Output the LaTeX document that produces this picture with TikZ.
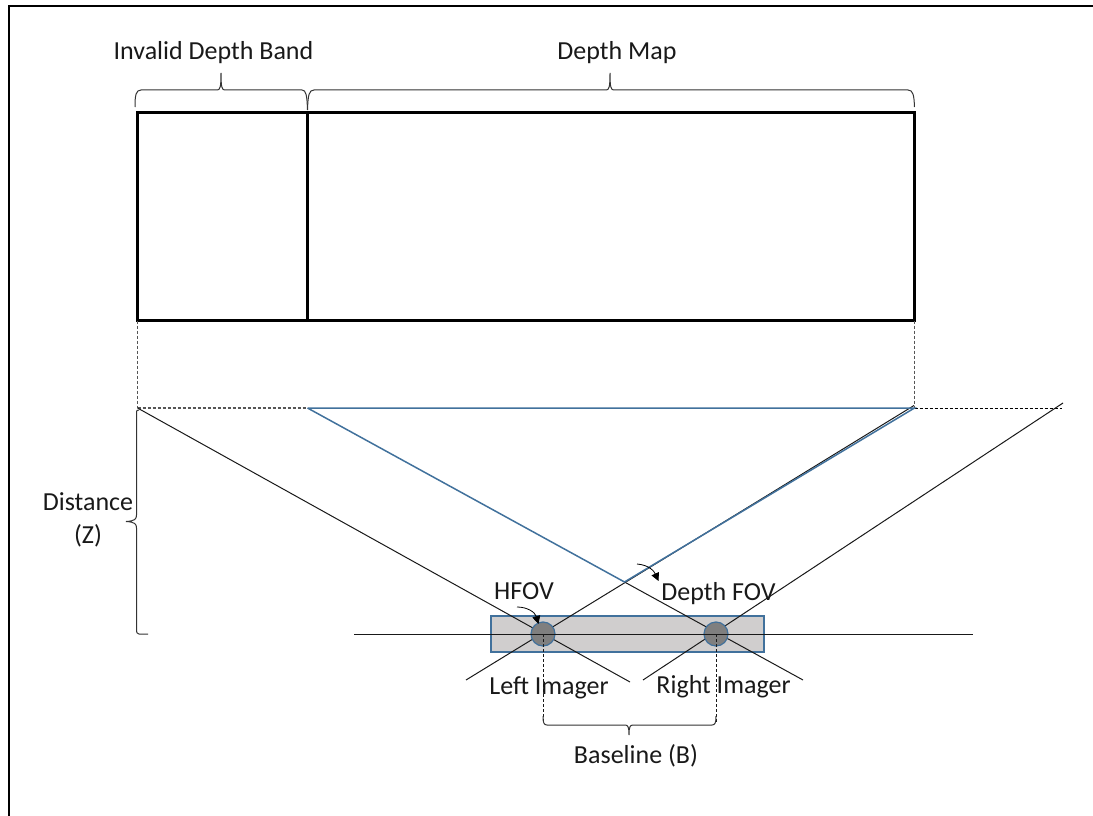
\documentclass[tikz,border=0pt]{standalone}
\usepackage{fontspec}
\setmainfont{Carlito}
\usetikzlibrary{arrows.meta}
\definecolor{bluel}{HTML}{41719C}
\definecolor{dashg}{HTML}{555555}
\definecolor{bodyg}{HTML}{D0CECE}
\definecolor{lensg}{HTML}{7F7F7F}
\tikzset{
  x=1pt,y=-1pt,
  lbl/.style={inner sep=0pt,anchor=base,font=\fontsize{26}{33}\selectfont,text=black!90},
  thick box/.style={draw=black,line width=3.6pt},
  thin line/.style={draw=black!90,line width=1pt},
  blue line/.style={draw=bluel,line width=1.5pt},
  brace line/.style={draw=black!80,line width=1pt},
  dash line/.style={draw=dashg,line width=1.2pt,dash pattern=on 3pt off 2pt},
  small arrow/.style={draw=black,line width=.8pt,-{Triangle[length=8pt,width=8pt]}},
  lens/.style={circle,draw=bluel,fill=lensg,line width=1.2pt,minimum size=24pt,inner sep=0pt},
}
\begin{document}
\begin{tikzpicture}
\useasboundingbox (0,0) rectangle (1093,816);
% frame
\draw[line width=2.6pt] (9,816) -- (9,6) -- (1093,6);
% top boxes
\coordinate (tl) at (137.5,112.5);
\coordinate (tm) at (307.5,112.5);
\coordinate (br) at (914.5,320.5);
\coordinate (bl) at (137.5,320.5);
\coordinate (bm) at (307.5,320.5);
\draw[thick box] (tl) rectangle (br);
\draw[thick box] (tm) -- (bm);
% dashed
\coordinate (gl) at (137.5,408);
\coordinate (gm) at (307.5,408);
\coordinate (gr) at (914.5,408);
\coordinate (ge) at (1062,408);
\draw[dash line] (bl) -- (gl);
\draw[dash line] (br) -- (gr);
\draw[dash line] (gl) -- (gm);
\draw[dash line,draw=black,line width=1pt] (gr) -- (ge);
% grey body
\draw[draw=bluel,fill=bodyg,line width=1.2pt] (491,616) rectangle (764,652);
\draw[thin line] (354,634) -- (973,634);
% rays
\coordinate (cr) at (624.5,582);
\draw[thin line] (137.5,408) -- (630,682);
\draw[thin line] (466,680) -- (914,405.5);
\draw[thin line] (643,680) -- (1063,403);
\draw[thin line] (cr) -- (803,680);
% circles
\node[lens] (L) at (543,634) {};
\node[lens] (R) at (716,634) {};
\draw[thin line] (L.west) -- (L.east);
\draw[thin line] (R.west) -- (R.east);
% blue
\draw[blue line] (gm) -- (gr) -- (cr) -- (gm);
% baseline
\draw[dash line,line width=1pt,draw=black!90] (L.center) -- (543,722);
\draw[dash line,line width=1pt,draw=black!90] (R.center) -- (716,722);
\draw[brace line] (543,716) .. controls (543,723) and (544,725) .. (547,725) -- (625,725) .. controls (628,725) and (629,727) .. (629,735) .. controls (629,727) and (630,725) .. (633,725) -- (712,725) .. controls (715,725) and (716,723) .. (716,716);
% upper braces
\draw[brace line] (135,107) .. controls (135,95) and (136,90) .. (141,90) -- (217,90) .. controls (220,90) and (221,88) .. (221,73) .. controls (221,88) and (222,90) .. (225,90) -- (302,90) .. controls (306,90) and (307,95) .. (307.5,110);
\draw[brace line] (307.5,110) .. controls (308,95) and (309,90) .. (314,90) -- (606,90) .. controls (609,90) and (610,88) .. (610,73) .. controls (610,88) and (611,90) .. (614,90) -- (908,90) .. controls (913,90) and (914,95) .. (914.5,107);
% distance brace
\draw[brace line] (148,634) -- (139,634) .. controls (137,634) and (136.5,633) .. (136.5,628) -- (136.5,528) .. controls (136.5,524) and (135,522) .. (126,521.5) .. controls (135,521) and (136.5,519) .. (136.5,515) -- (136.5,414) .. controls (136.5,410) and (137,410) .. (139,410);
% labels
\node[lbl] (t1) at (213.5,60) {Invalid Depth Band};
\node[lbl] (t2) at (617,60) {Depth Map};
\node[lbl] (t3a) at (88,510) {Distance};
\node[lbl] (t3b) at (88,543) {(Z)};
\node[lbl] (t4) at (524,599) {HFOV};
\node[lbl] (t5) at (718.5,600) {Depth FOV};
\node[lbl] (t6) at (549,694) {Left Imager};
\node[lbl] (t7) at (723.5,693) {Right Imager};
\node[lbl] (t8) at (636,763) {Baseline (B)};
% small arrows
\draw[small arrow] (517,607) .. controls (527,607) and (535,612) .. (538.5,624);
\draw[small arrow] (637,564) .. controls (649,565) and (654,571) .. (658.5,581);
\end{tikzpicture}
\end{document}
